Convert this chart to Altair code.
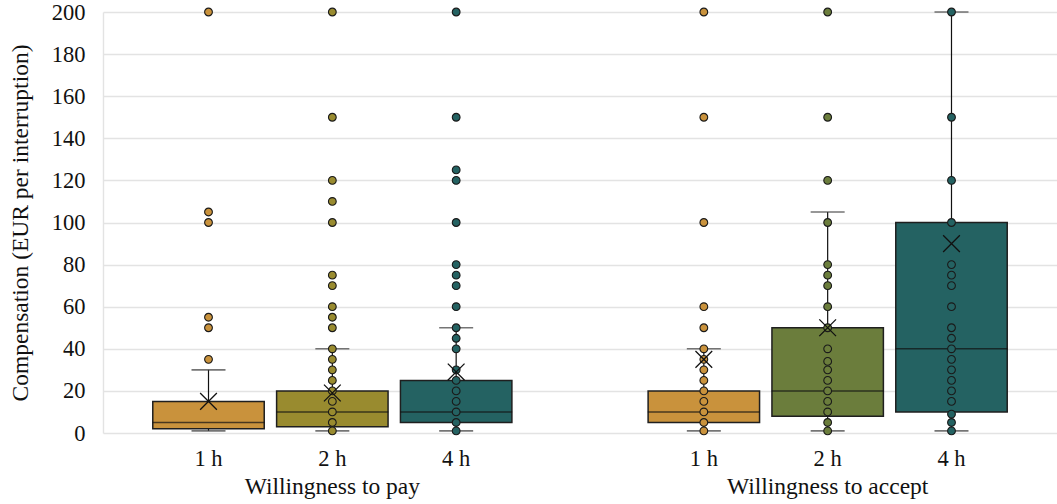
import altair as alt
import pandas as pd

groups = ["Willingness to pay", "Willingness to accept"]
durations = ["1 h", "2 h", "4 h"]

# Box statistics, ordered: pay 1 h, 2 h, 4 h, then accept 1 h, 2 h, 4 h
whisker_low = [1, 1, 1, 1, 1, 1]
quartile_1 = [2, 3, 5, 5, 8, 10]
medians = [5, 10, 10, 10, 20, 40]
quartile_3 = [15, 20, 25, 20, 50, 100]
whisker_high = [30, 40, 50, 40, 105, 200]
means = [15, 19, 29, 35, 50, 90]

# Individual responses drawn as dots (EUR per interruption)
pay_1h = [35, 50, 55, 100, 105, 200]
pay_2h = [1, 5, 10, 15, 20, 25, 30, 35, 40, 50, 55, 60, 70, 75, 100, 110, 120, 150, 200]
pay_4h = [1, 5, 10, 15, 20, 25, 30, 40, 45, 50, 60, 70, 75, 80, 100, 120, 125, 150, 200]
accept_1h = [1, 5, 10, 15, 20, 25, 30, 35, 40, 50, 60, 100, 150, 200]
accept_2h = [1, 5, 10, 15, 20, 25, 30, 34, 40, 50, 60, 70, 75, 80, 100, 120, 150, 200]
accept_4h = [1, 5, 9, 15, 20, 25, 30, 35, 40, 45, 50, 60, 70, 75, 80, 100, 120, 150, 200]

series_colors = ["#C9923C", "#998B2F", "#246262", "#C9923C", "#6B7D3C", "#246262"]

series_keys = [f"{g}|{d}" for g in groups for d in durations]

boxes = pd.DataFrame({
    "group": [g for g in groups for _ in durations],
    "duration": durations * len(groups),
    "series": series_keys,
    "low": whisker_low,
    "q1": quartile_1,
    "median": medians,
    "q3": quartile_3,
    "high": whisker_high,
    "mean": means,
})

point_lists = [pay_1h, pay_2h, pay_4h, accept_1h, accept_2h, accept_4h]
rows = []
for key, vals in zip(series_keys, point_lists):
    g, d = key.split("|")
    for v in vals:
        rows.append({"group": g, "duration": d, "series": key, "value": v})
points = pd.DataFrame(rows)

FONT = "Liberation Serif, Times New Roman, Times, serif"
Y_TITLE = "Compensation (EUR per interruption)"
TEXT = "#111111"

x_enc = alt.X(
    "group:N",
    sort=groups,
    scale=alt.Scale(domain=groups, paddingInner=0.25, paddingOuter=0.088),
    axis=alt.Axis(title=None, ticks=False, domain=False, labelFontSize=23.5,
                  labelAngle=0, labelPadding=53, labelColor=TEXT, labelFont=FONT,
                  labelBaseline="middle", labelLimit=0, labelOverlap=False),
)
xo_enc = alt.XOffset(
    "duration:N",
    sort=durations,
    scale=alt.Scale(domain=durations, paddingInner=0.1, paddingOuter=0.05),
)
y_scale = alt.Scale(domain=[0, 200], nice=False)
color_scale = alt.Scale(domain=series_keys, range=series_colors)


def y_of(field):
    return alt.Y(f"{field}:Q", scale=y_scale, title=Y_TITLE)


base_box = alt.Chart(boxes)

whiskers = base_box.mark_rule(color="#111111", strokeWidth=1.2).encode(
    x=x_enc, xOffset=xo_enc, y=y_of("low"), y2="high:Q"
)

box = base_box.mark_bar(stroke="#1f1f1f", strokeWidth=1.5).encode(
    x=x_enc, xOffset=xo_enc, y=y_of("q1"), y2="q3:Q",
    fill=alt.Fill("series:N", scale=color_scale, legend=None),
)

median_line = base_box.mark_tick(size=112, thickness=1.5, color="#111111").encode(
    x=x_enc, xOffset=xo_enc, y=y_of("median")
)

cap_low = base_box.mark_tick(size=34, thickness=1.6, color="#3a3a3a").encode(
    x=x_enc, xOffset=xo_enc, y=y_of("low")
)
cap_high = base_box.mark_tick(size=34, thickness=1.6, color="#3a3a3a").encode(
    x=x_enc, xOffset=xo_enc, y=y_of("high")
)

dots = alt.Chart(points).mark_point(
    filled=True, size=60, stroke="#1a1a1a", strokeWidth=1.1, opacity=1
).encode(
    x=x_enc, xOffset=xo_enc, y=y_of("value"),
    fill=alt.Fill("series:N", scale=color_scale, legend=None),
)

mean_mark = base_box.mark_point(
    shape="M-1,-1L1,1M-1,1L1,-1", size=280, filled=False,
    stroke="#111111", strokeWidth=1.3, opacity=1,
).encode(x=x_enc, xOffset=xo_enc, y=y_of("mean"))

duration_labels = base_box.mark_text(
    font=FONT, fontSize=22.5, baseline="middle", color=TEXT
).encode(x=x_enc, xOffset=xo_enc, y=alt.value(447), text="duration:N")

chart = alt.layer(
    whiskers, box, median_line, cap_low, cap_high, dots, mean_mark, duration_labels
).properties(
    width=954, height=421,
    autosize=alt.AutoSizeParams(type="none"),
    padding={"left": 103, "top": 12, "right": 0, "bottom": 71},
).configure(
    font=FONT,
).configure_view(
    stroke=None,
).configure_axisY(
    values=list(range(0, 201, 20)),
    grid=True, gridColor="#E3E3E3", gridWidth=1.4,
    domain=True, domainColor="#E3E3E3", domainWidth=1.4,
    ticks=False, labelFontSize=22.5, labelPadding=18, labelColor=TEXT,
    labelFont=FONT, titleFont=FONT, titleFontSize=23.5, titleFontWeight="normal",
    titleColor=TEXT, titlePadding=19,
)

chart.save("out.html", embed_options={"renderer": "svg", "actions": False})
